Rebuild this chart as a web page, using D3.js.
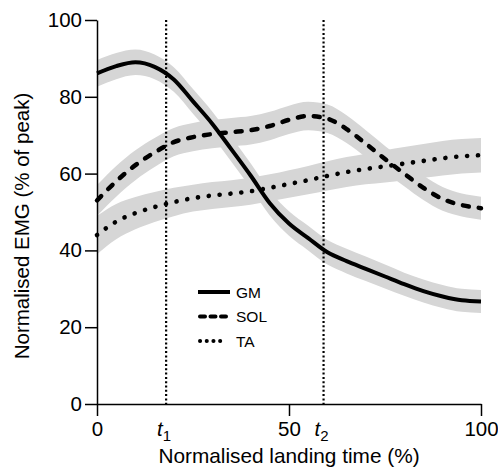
<!DOCTYPE html>
<html>
<head>
<meta charset="utf-8">
<script src="https://cdn.jsdelivr.net/npm/d3@7"></script>
<style>
  body { margin: 0; background: #fff; }
  text { font-family: "Liberation Sans", Arial, sans-serif; fill: #000; }
</style>
</head>
<body>
<script>
// Landing time samples (% of landing)
var time = [0, 5, 10, 15, 20, 25, 30, 35, 40, 45, 50, 55, 60, 65, 70, 75, 80, 85, 90, 95, 100];

// Mean EMG (% of peak) per muscle
var gm  = [86.1, 88.0, 89.0, 87.8, 84.5, 78.8, 73.0, 66.3, 59.5, 52.3, 47.0, 43.2, 39.5, 37.2, 35.2, 33.2, 31.2, 29.4, 28.0, 27.0, 26.7];
var sol = [53.0, 58.0, 62.2, 65.5, 68.2, 69.5, 70.3, 70.8, 71.3, 72.4, 74.0, 75.0, 74.3, 71.6, 67.8, 63.8, 60.0, 56.3, 53.4, 51.8, 51.0];
var ta  = [44.0, 47.5, 49.7, 51.3, 52.6, 53.6, 54.3, 54.8, 55.4, 56.3, 57.3, 58.3, 59.4, 60.4, 61.2, 61.9, 62.6, 63.3, 64.0, 64.5, 64.8];

// Spread (half width of grey band)
var gmSd  = [3.5, 3.4, 3.3, 3.2, 3.2, 3.2, 3.2, 3.2, 3.2, 3.2, 3.2, 3.2, 3.2, 3.2, 3.2, 3.1, 3.0, 3.0, 3.0, 3.0, 3.0];
var solSd = [4.0, 4.0, 3.9, 3.8, 3.7, 3.7, 3.7, 3.7, 3.7, 3.7, 3.7, 3.7, 3.7, 3.6, 3.5, 3.4, 3.3, 3.2, 3.1, 3.0, 3.0];
var taSd  = [5.0, 4.6, 4.2, 3.9, 3.7, 3.5, 3.5, 3.5, 3.5, 3.5, 3.6, 3.7, 3.8, 3.9, 4.0, 4.2, 4.3, 4.4, 4.5, 4.5, 4.5];

var xTicks = [0, 50, 100];
var yTicks = [0, 20, 40, 60, 80, 100];
var events = [{name: "t", sub: "1", x: 18}, {name: "t", sub: "2", x: 59}];
var muscles = ["GM", "SOL", "TA"];

var w = 498, h = 471;
var margin = {left: 97, right: 17, top: 20, bottom: 67};

var svg = d3.select("body").append("svg")
  .attr("width", w)
  .attr("height", h);

var xScale = d3.scaleLinear().domain([0, 100]).range([margin.left, w - margin.right]);
var yScale = d3.scaleLinear().domain([0, 100]).range([h - margin.bottom, margin.top]);

// line styles per muscle
var styles = {
  GM:  {dash: null, width: 4, cap: "butt"},
  SOL: {dash: "6 10", width: 4.5, cap: "round"},
  TA:  {dash: "0.1 10.8", width: 4.6, cap: "round"}
};

var series = [
  {name: "GM", mean: gm, sd: gmSd},
  {name: "SOL", mean: sol, sd: solSd},
  {name: "TA", mean: ta, sd: taSd}
];

var area = d3.area()
  .x(function(d) { return xScale(d.t); })
  .y0(function(d) { return yScale(d.m - d.s); })
  .y1(function(d) { return yScale(d.m + d.s); })
  .curve(d3.curveMonotoneX);

var line = d3.line()
  .x(function(d) { return xScale(d.t); })
  .y(function(d) { return yScale(d.m); })
  .curve(d3.curveMonotoneX);

function points(s) {
  return time.map(function(t, i) { return {t: t, m: s.mean[i], s: s.sd[i]}; });
}

// grey bands first
series.forEach(function(s) {
  svg.append("path")
    .datum(points(s))
    .attr("d", area)
    .attr("fill", "#d6d6d6");
});

// event lines
svg.selectAll(".event")
  .data(events)
  .enter()
  .append("line")
  .attr("class", "event")
  .attr("x1", function(d) { return xScale(d.x); })
  .attr("x2", function(d) { return xScale(d.x); })
  .attr("y1", yScale(100))
  .attr("y2", yScale(0))
  .attr("stroke", "#000")
  .attr("stroke-width", 2.2)
  .attr("stroke-dasharray", "2 2.3");

// mean lines
series.forEach(function(s) {
  var st = styles[s.name];
  svg.append("path")
    .datum(points(s))
    .attr("d", line)
    .attr("fill", "none")
    .attr("stroke", "#000")
    .attr("stroke-width", st.width)
    .attr("stroke-linecap", st.cap)
    .attr("stroke-dasharray", st.dash);
});

// axes
var yAxis = svg.append("g")
  .attr("transform", "translate(" + margin.left + ",0)")
  .call(d3.axisLeft(yScale).tickValues(yTicks).tickSize(12).tickSizeOuter(0).tickPadding(3));

var xAxis = svg.append("g")
  .attr("transform", "translate(0," + yScale(0) + ")")
  .call(d3.axisBottom(xScale).tickValues(xTicks).tickSize(12).tickSizeOuter(0).tickPadding(5));

[xAxis, yAxis].forEach(function(a) {
  a.selectAll("path, line").attr("stroke", "#000").attr("stroke-width", 1.5);
  a.selectAll("text").style("font-size", "20.5px").style("font-family", "Liberation Sans, Arial, sans-serif");
});

// event labels t1, t2
var evLabels = svg.selectAll(".evlabel")
  .data(events)
  .enter()
  .append("text")
  .attr("class", "evlabel")
  .attr("x", function(d) { return xScale(d.x) - 9; })
  .attr("y", yScale(0) + 32)
  .style("font-size", "20.5px");
evLabels.append("tspan")
  .style("font-style", "italic")
  .text(function(d) { return d.name; });
evLabels.append("tspan")
  .attr("dy", 5)
  .style("font-size", "15px")
  .text(function(d) { return d.sub; });

// axis titles
svg.append("text")
  .attr("x", (xScale(0) + xScale(100)) / 2)
  .attr("y", 463)
  .attr("text-anchor", "middle")
  .style("font-size", "20.8px")
  .text("Normalised landing time (%)");

svg.append("text")
  .attr("transform", "translate(28.5,226) rotate(-90)")
  .attr("text-anchor", "middle")
  .style("font-size", "20.5px")
  .text("Normalised EMG (% of peak)");

// legend
var legend = svg.selectAll(".legend")
  .data(muscles)
  .enter()
  .append("g")
  .attr("class", "legend")
  .attr("transform", function(d, i) {
    return "translate(198," + (292 + i * 24.5) + ")";
  });

legend.append("line")
  .attr("x1", function(d) { return d == "GM" ? 0 : 2; })
  .attr("x2", function(d) { return d == "TA" ? 27 : (d == "GM" ? 32 : 30); })
  .attr("y1", 0)
  .attr("y2", 0)
  .attr("stroke", "#000")
  .attr("stroke-width", 4)
  .attr("stroke-linecap", function(d) { return styles[d].cap; })
  .attr("stroke-dasharray", function(d) {
    if (d == "SOL") return "5 5.5";
    if (d == "TA") return "0.1 6.6";
    return null;
  });

legend.append("text")
  .attr("x", 38)
  .attr("y", 5.5)
  .style("font-size", "15.5px")
  .text(function(d) { return d; });
</script>
</body>
</html>
